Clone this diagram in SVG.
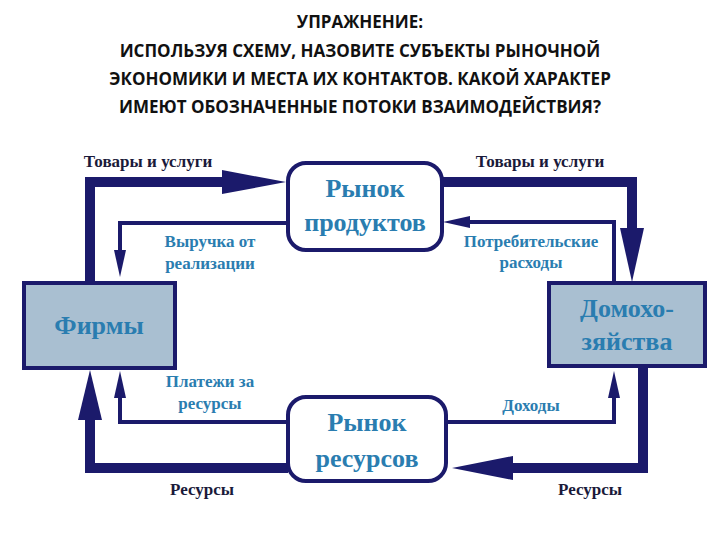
<svg xmlns="http://www.w3.org/2000/svg" width="720" height="540" viewBox="0 0 720 540">
<style>
.h{font-family:"Open Sans","Liberation Sans",sans-serif;font-weight:bold;font-size:17px;fill:#111;text-anchor:middle}
.box{fill:#a9bfd1;stroke:#1b1a6b;stroke-width:4}
.mk{fill:#fff;stroke:#1b1a6b;stroke-width:4}
.t{font-family:"Liberation Serif",serif;font-weight:bold;fill:#2a7db0;text-anchor:middle}
.big{font-size:26px}
.lb{font-family:"Liberation Serif",serif;font-weight:bold;font-size:17px;text-anchor:middle}
.bl{fill:#2a7db0}.dk{fill:#1a1a3a}
.thick{fill:none;stroke:#1b1a6b;stroke-width:10}
.thin{fill:none;stroke:#1b1a6b;stroke-width:4}
.ah{fill:#1b1a6b}
</style>
<text class="h" x="360" y="28">УПРАЖНЕНИЕ:</text>
<text class="h" x="360" y="57">ИСПОЛЬЗУЯ СХЕМУ, НАЗОВИТЕ СУБЪЕКТЫ РЫНОЧНОЙ</text>
<text class="h" x="360" y="85">ЭКОНОМИКИ И МЕСТА ИХ КОНТАКТОВ. КАКОЙ ХАРАКТЕР</text>
<text class="h" x="360" y="113">ИМЕЮТ ОБОЗНАЧЕННЫЕ ПОТОКИ ВЗАИМОДЕЙСТВИЯ?</text>
<g id="connectors">
<path class="thick" d="M90 283 V182 H230"/><polygon class="ah" points="222,170 286,182 222,194"/>
<path class="thick" d="M443 182 H632 V230"/><polygon class="ah" points="620,228 632,282 644,228"/>
<path class="thick" d="M643 366 V468 H505"/><polygon class="ah" points="513,456 452,468 513,480"/>
<path class="thick" d="M288 468 H90 V415"/><polygon class="ah" points="78,420 90,370 102,420"/>
<path class="thin" d="M288 223 H120 V255"/><polygon class="ah" points="114,250 120,277 126,250"/>
<path class="thin" d="M614 283 V222 H468"/><polygon class="ah" points="470,216 443,222 470,228"/>
<path class="thin" d="M614 393 V422 H446"/><polygon class="ah" points="608,398 614,371 620,398"/>
<path class="thin" d="M288 422 H120 V395"/><polygon class="ah" points="114,398 120,371 126,398"/>
</g>
<g id="firms"><rect class="box" x="24" y="283" width="151" height="85"/><text class="t big" x="99" y="334">Фирмы</text></g>
<g id="households"><rect class="box" x="549" y="283" width="156" height="83"/><text class="t big" x="627" y="317">Домохо-</text><text class="t big" x="627" y="350">зяйства</text></g>
<g id="product-market"><rect class="mk" x="288" y="163" width="154" height="87" rx="18"/><text class="t big" x="365" y="197">Рынок</text><text class="t big" x="365" y="231">продуктов</text></g>
<g id="resource-market"><rect class="mk" x="288" y="397" width="158" height="84" rx="18"/><text class="t big" x="367" y="431">Рынок</text><text class="t big" x="367" y="467">ресурсов</text></g>
<g id="labels">
<text class="lb dk" x="148" y="167">Товары и услуги</text>
<text class="lb dk" x="540" y="167">Товары и услуги</text>
<text class="lb bl" x="210" y="247">Выручка от</text>
<text class="lb bl" x="210" y="269">реализации</text>
<text class="lb bl" x="531" y="247">Потребительские</text>
<text class="lb bl" x="531" y="268">расходы</text>
<text class="lb bl" x="210" y="387">Платежи за</text>
<text class="lb bl" x="210" y="409">ресурсы</text>
<text class="lb bl" x="531" y="411">Доходы</text>
<text class="lb dk" x="202" y="495">Ресурсы</text>
<text class="lb dk" x="590" y="495">Ресурсы</text>
</g>
</svg>
